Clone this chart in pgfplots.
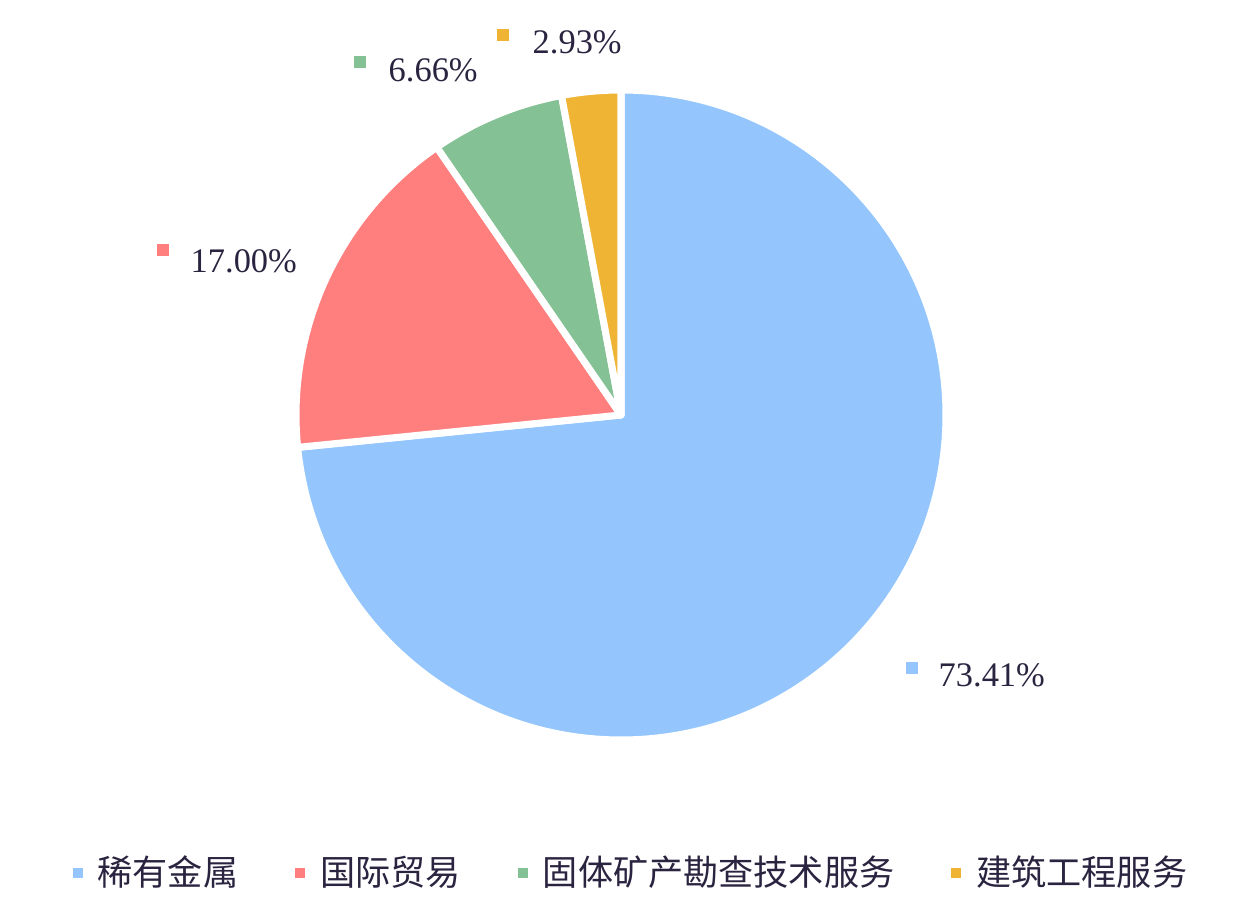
\documentclass[border=0pt]{standalone}
\usepackage{fontspec}
\setmainfont{Liberation Serif}
\newfontfamily\cjk{Noto Sans CJK SC}
\usepackage{pgfplots}
\pgfplotsset{compat=1.18}

\definecolor{cblue}{HTML}{94C6FD}
\definecolor{cred}{HTML}{FF7F7E}
\definecolor{cgreen}{HTML}{84C194}
\definecolor{cyellow}{HTML}{F0B435}
\definecolor{txt}{HTML}{2B2440}

% shares in percent
\def\vA{73.41}
\def\vB{17.00}
\def\vC{6.66}
\def\vD{2.93}
% slice boundaries, clockwise from the top
\pgfmathsetmacro\aA{90}
\pgfmathsetmacro\aB{\aA-3.6*\vA}
\pgfmathsetmacro\aC{\aB-3.6*\vB}
\pgfmathsetmacro\aD{\aC-3.6*\vC}
\pgfmathsetmacro\aE{\aD-3.6*\vD}

\begin{document}
\begin{tikzpicture}
\begin{axis}[
  width=12.34cm, height=9.06cm, scale only axis,
  xmin=0, xmax=1234, ymin=0, ymax=906,
  hide axis, clip=false,
  legend image code/.code={\fill[#1, draw=none] (-0.05cm,-0.05cm) rectangle (0.05cm,0.05cm);},
  legend style={at={(axis cs:72,33)}, anchor=west, draw=none, fill=none,
    inner sep=0pt, nodes={inner sep=0pt, text=txt},
    font=\cjk\fontsize{10}{12}\selectfont,
    /tikz/every odd column/.append style={column sep=0.15cm},
    /tikz/every even column/.append style={column sep=0.57cm}},
  legend columns=4,
  ]
  \path (axis cs:0,0) rectangle (axis cs:1234,906);
  % slices
  \fill[cblue, draw=white, line width=2pt, line join=round] (axis cs:621,491) -- ++(\aA:3.25cm) arc[start angle=\aA, end angle=\aB, radius=3.25cm] -- cycle;
  \fill[cred, draw=white, line width=2pt, line join=round] (axis cs:621,491) -- ++(\aB:3.25cm) arc[start angle=\aB, end angle=\aC, radius=3.25cm] -- cycle;
  \fill[cgreen, draw=white, line width=2pt, line join=round] (axis cs:621,491) -- ++(\aC:3.25cm) arc[start angle=\aC, end angle=\aD, radius=3.25cm] -- cycle;
  \fill[cyellow, draw=white, line width=2pt, line join=round] (axis cs:621,491) -- ++(\aD:3.25cm) arc[start angle=\aD, end angle=\aE, radius=3.25cm] -- cycle;

  % data label markers
  \addplot[only marks, mark=square*, mark size=1.4pt, color=cblue, forget plot] coordinates {(912,238)};
  \addplot[only marks, mark=square*, mark size=1.4pt, color=cred, forget plot] coordinates {(163,656)};
  \addplot[only marks, mark=square*, mark size=1.4pt, color=cgreen, forget plot] coordinates {(360,844)};
  \addplot[only marks, mark=square*, mark size=1.4pt, color=cyellow, forget plot] coordinates {(503,871)};
  \begin{scope}[every node/.style={anchor=west, inner sep=0pt, text=txt, font=\fontsize{9.8}{12}\selectfont}]
    \node at (axis cs:938,231) {73.41\%};
    \node at (axis cs:190,645) {17.00\%};
    \node at (axis cs:388,836) {6.66\%};
    \node at (axis cs:532,864) {2.93\%};
  \end{scope}

  \addlegendimage{fill=cblue}
  \addlegendentry{稀有金属}
  \addlegendimage{fill=cred}
  \addlegendentry{国际贸易}
  \addlegendimage{fill=cgreen}
  \addlegendentry{固体矿产勘查技术服务}
  \addlegendimage{fill=cyellow}
  \addlegendentry{建筑工程服务}
\end{axis}
\end{tikzpicture}
\end{document}
